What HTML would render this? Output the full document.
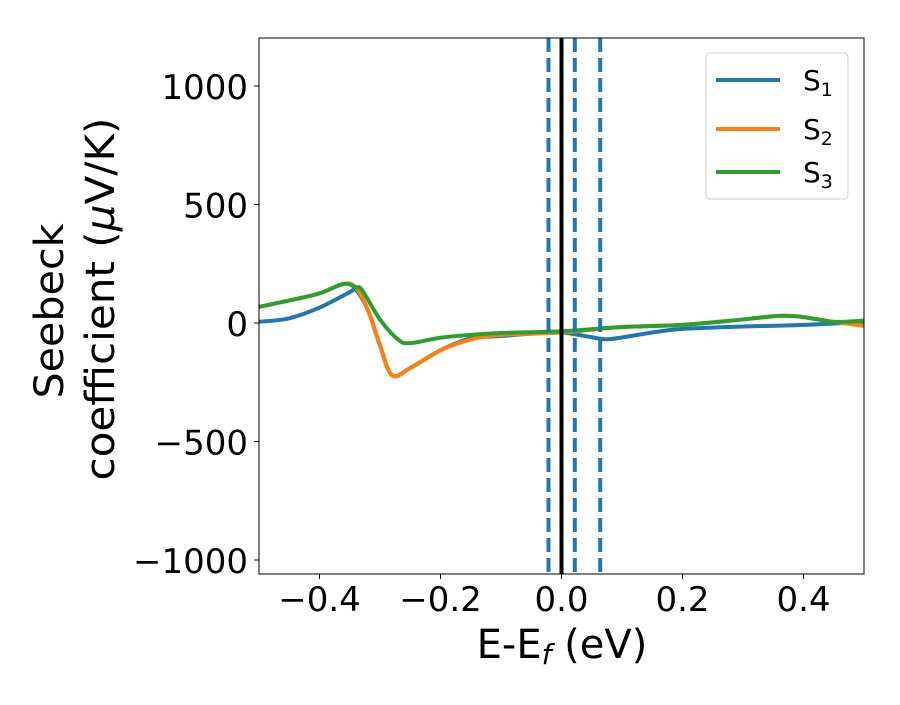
<!DOCTYPE html>
<html><head><meta charset="utf-8"><style>
body{margin:0;background:#fff;}
svg text{font-family:"DejaVu Sans","Liberation Sans",sans-serif;fill:#000;}
</style></head><body>
<svg id="chart" width="900" height="700">
<rect width="900" height="700" fill="#fff"/>
<g id="plot"></g>
</svg>
<script>
const xS1=[-0.5,-0.45,-0.4,-0.35,-0.34,-0.32,-0.3,-0.28,-0.25,-0.2,-0.15,-0.1,-0.05,0,0.05,0.08,0.15,0.2,0.3,0.4,0.5];
const yS1=[5,20,65,130,140,55,-95,-220,-190,-115,-65,-55,-45,-40,-60,-68,-40,-25,-15,-8,5];
const xS2=[-0.5,-0.45,-0.4,-0.36,-0.34,-0.32,-0.3,-0.28,-0.25,-0.2,-0.15,-0.1,0,0.1,0.2,0.3,0.36,0.4,0.45,0.5];
const yS2=[68,95,125,165,150,55,-95,-220,-190,-115,-70,-50,-40,-17,-8,15,30,25,5,-12];
const xS3=[-0.5,-0.45,-0.4,-0.36,-0.34,-0.33,-0.3,-0.27,-0.25,-0.2,-0.15,-0.1,0,0.1,0.2,0.3,0.36,0.4,0.45,0.5];
const yS3=[68,95,125,165,150,140,15,-70,-85,-62,-50,-42,-35,-17,-8,15,30,25,5,10];
const vDashed=[-0.0215,0.022,0.064];
const vSolid=[0];
const xTicks=[-0.4,-0.2,0,0.2,0.4];
const xTickLabels=["\u22120.4","\u22120.2","0.0","0.2","0.4"];
const yTicks=[-1000,-500,0,500,1000];
const yTickLabels=["\u22121000","\u2212500","0","500","1000"];
const L=259,R=864,T=38,B=574;
const X=v=>L+(v+0.5)*(R-L);
const Y=v=>323-v*0.237;
const NS="http://www.w3.org/2000/svg";
const g=document.getElementById('plot');
function mk(t,a){const e=document.createElementNS(NS,t);for(const k in a)e.setAttribute(k,a[k]);g.appendChild(e);return e;}
function catmull(xs,ys){let p=xs.map((x,i)=>[X(x),Y(ys[i])]);let d="M"+p[0][0]+","+p[0][1];
for(let i=0;i<p.length-1;i++){const p0=p[Math.max(0,i-1)],p1=p[i],p2=p[i+1],p3=p[Math.min(p.length-1,i+2)];
const c1=[p1[0]+(p2[0]-p0[0])/6,p1[1]+(p2[1]-p0[1])/6],c2=[p2[0]-(p3[0]-p1[0])/6,p2[1]-(p3[1]-p1[1])/6];
d+=`C${c1[0]},${c1[1]} ${c2[0]},${c2[1]} ${p2[0]},${p2[1]}`;}return d;}
const defs=mk('clipPath',{id:'clip'});const cr=document.createElementNS(NS,'rect');
cr.setAttribute('x',L);cr.setAttribute('y',T);cr.setAttribute('width',R-L);cr.setAttribute('height',B-T);defs.appendChild(cr);
const series=[[xS1,yS1,'#1f77b4','series-s1'],[xS2,yS2,'#ff7f0e','series-s2'],[xS3,yS3,'#2ca02c','series-s3']];
series.forEach(s=>{const p=mk('path',{d:catmull(s[0],s[1]),fill:'none',stroke:s[2],'stroke-width':4,'clip-path':'url(#clip)'});

});
vDashed.forEach(v=>{const l=mk('line',{x1:X(v),x2:X(v),y1:T,y2:B,stroke:'#1f77b4','stroke-width':4,'stroke-dasharray':'14,6'});

});
vSolid.forEach(v=>{const l=mk('line',{x1:X(v),x2:X(v),y1:T,y2:B,stroke:'#000','stroke-width':4});

});
const fr=mk('rect',{x:L,y:T,width:R-L,height:B-T,fill:'none',stroke:'#000','stroke-width':1});


xTicks.forEach((v,i)=>{mk('line',{x1:X(v),x2:X(v),y1:B,y2:B+5,stroke:'#000'});
const t=mk('text',{x:X(v),y:B+37,'font-size':34,'text-anchor':'middle'});t.textContent=xTickLabels[i];

});
yTicks.forEach((v,i)=>{mk('line',{x1:L-5,x2:L,y1:Y(v),y2:Y(v),stroke:'#000'});
const t=mk('text',{x:L-11,y:Y(v)+13,'font-size':34,'text-anchor':'end'});t.textContent=yTickLabels[i];

});
</script>
<svg width="900" height="700" style="position:absolute;left:0;top:0">
<text x="562" y="658" font-size="40" text-anchor="middle">E-E<tspan font-style="italic" font-size="28" dy="6">f</tspan><tspan dy="-6"> (eV)</tspan></text>
<g>
<text transform="translate(63,311) rotate(-90)" x="0" y="0" font-size="40" text-anchor="middle" textLength="175" lengthAdjust="spacingAndGlyphs">Seebeck</text>
<text transform="translate(114,299) rotate(-90)" x="0" y="0" font-size="40" text-anchor="middle" textLength="363" lengthAdjust="spacingAndGlyphs">coefficient  (<tspan font-style="italic">μ</tspan>V/K)</text>
</g>
<g>
<rect x="706" y="53" width="142" height="146" rx="4" fill="#fff" fill-opacity="0.8" stroke="#ccc"/>
<line x1="716" y1="80" x2="780" y2="80" stroke="#1f77b4" stroke-width="4"/>
<text x="803" y="90" font-size="28">S<tspan font-size="19" dy="6">1</tspan></text>
<line x1="716" y1="129" x2="780" y2="129" stroke="#ff7f0e" stroke-width="4"/>
<text x="803" y="139" font-size="28">S<tspan font-size="19" dy="6">2</tspan></text>
<line x1="716" y1="172" x2="780" y2="172" stroke="#2ca02c" stroke-width="4"/>
<text x="803" y="182" font-size="28">S<tspan font-size="19" dy="6">3</tspan></text>
</g>
</svg>
</body></html>
